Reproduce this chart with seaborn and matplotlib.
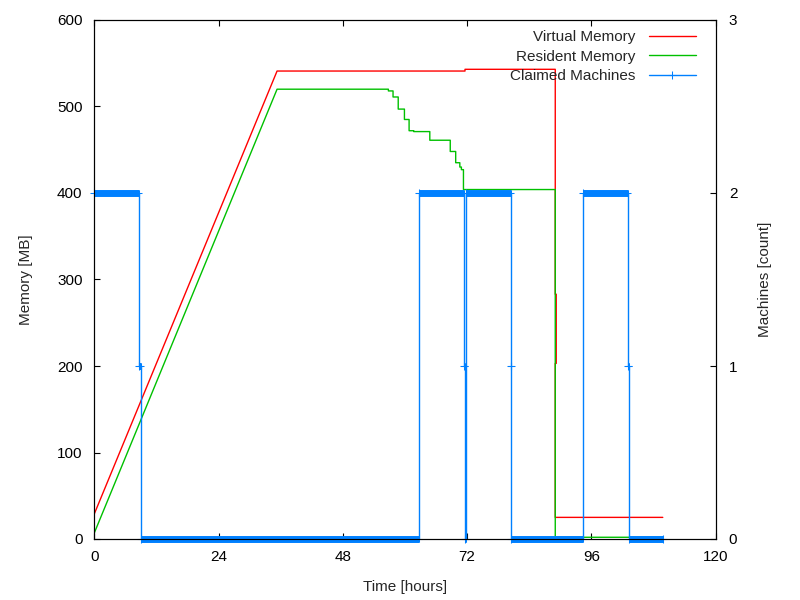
import matplotlib
matplotlib.use("Agg")
import matplotlib.pyplot as plt
import seaborn as sns

# memory series (hours, MB)
virtual_t = [0, 35.3, 71.6, 71.6, 89.03, 89.03, 89.22, 89.22, 89.03, 89.03, 109.8]
virtual_mb = [29, 541, 541, 543, 543, 283, 283, 203, 203, 25, 25]

resident_t = [0, 35.3, 56.8, 56.8, 57.7, 57.7, 58.7, 58.7, 59.9, 59.9, 60.8, 60.8,
              61.7, 61.7, 64.8, 64.8, 68.75, 68.75, 69.8, 69.8, 70.6, 70.6, 70.9, 70.9,
              71.3, 71.3, 89.03, 89.03, 109.8]
resident_mb = [7, 520, 520, 518, 518, 511, 511, 497, 497, 485, 485, 472,
               472, 471, 471, 461, 461, 448, 448, 435, 435, 430, 430, 427,
               427, 404, 404, 2, 2]

# claimed machines (step series, value holds until next time)
machine_t = [0, 8.57, 9.08, 62.77, 71.46, 71.53, 71.84, 80.5, 80.55, 94.44, 103.13, 103.18, 109.8]
machine_n = [2, 1, 0, 2, 1, 0, 2, 1, 0, 2, 1, 0, 0]

x_ticks = [0, 24, 48, 72, 96, 120]
mem_ticks = [0, 100, 200, 300, 400, 500, 600]
count_ticks = [0, 1, 2, 3]

RED, GREEN, BLUE = "#ff0000", "#00c000", "#0080ff"

sns.set_style("ticks")
plt.rcParams["font.family"] = ["Liberation Sans", "DejaVu Sans"]
plt.rcParams["font.size"] = 11
plt.rcParams["axes.edgecolor"] = "black"
plt.rcParams["axes.linewidth"] = 0.8

fig = plt.figure(figsize=(8, 6), dpi=100)
ax = fig.add_axes([94.3 / 800, 1 - 539 / 600, 621.3 / 800, 519 / 600])
ax2 = ax.twinx()

sns.lineplot(x=virtual_t, y=virtual_mb, ax=ax, color=RED, lw=1.0,
             estimator=None, sort=False, label="Virtual Memory")
sns.lineplot(x=resident_t, y=resident_mb, ax=ax, color=GREEN, lw=1.0,
             estimator=None, sort=False, label="Resident Memory")
if ax.get_legend() is not None:
    ax.get_legend().remove()

sns.lineplot(x=machine_t, y=machine_n, ax=ax2, color=BLUE, lw=1.0,
             estimator=None, sort=False, drawstyle="steps-post",
             marker="+", markersize=6, markeredgewidth=0.75,
             markeredgecolor=BLUE, clip_on=False, label="Claimed Machines")
if ax2.get_legend() is not None:
    ax2.get_legend().remove()

# dense samples in the original render as thick bars on flat runs
for i in range(len(machine_t) - 1):
    if machine_t[i + 1] - machine_t[i] > 0.2 or machine_n[i] == 1:
        ax2.plot([machine_t[i], machine_t[i + 1]], [machine_n[i], machine_n[i]],
                 color=BLUE, lw=5, solid_capstyle="butt", marker="+",
                 markersize=5, markeredgewidth=0.75, clip_on=False)

ax.set_xlim(0, 120)
ax.set_ylim(0, 600)
ax2.set_ylim(0, 3)
ax.set_xticks(x_ticks)
ax.set_yticks(mem_ticks)
ax2.set_yticks(count_ticks)

ax.tick_params(axis="x", direction="in", top=True, length=4.5, width=0.8, pad=8, colors="black")
ax.tick_params(axis="y", direction="in", length=4.5, width=0.8, pad=8.5, colors="black")
ax2.tick_params(axis="y", direction="in", length=4.5, width=0.8, pad=9.5, colors="black")

ax.set_xlabel("Time [hours]")
ax.set_ylabel("Memory [MB]")
ax2.set_ylabel("Machines [count]")
ax.xaxis.set_label_coords(0.5, -0.079)
ax.yaxis.set_label_coords(-0.098, 0.5)
ax2.yaxis.set_label_coords(1.068, 0.5)

handles, labels = ax.get_legend_handles_labels()
h2, l2 = ax2.get_legend_handles_labels()
ax2.legend(handles + h2, labels + l2, loc="upper right",
           bbox_to_anchor=((696 - 94.3) / 621.3, (539 - 30) / 519),
           frameon=False, markerfirst=False, borderpad=0, borderaxespad=0,
           handlelength=3.1, handletextpad=0.85, labelspacing=0.37)

fig.savefig("out.png", dpi=100)
